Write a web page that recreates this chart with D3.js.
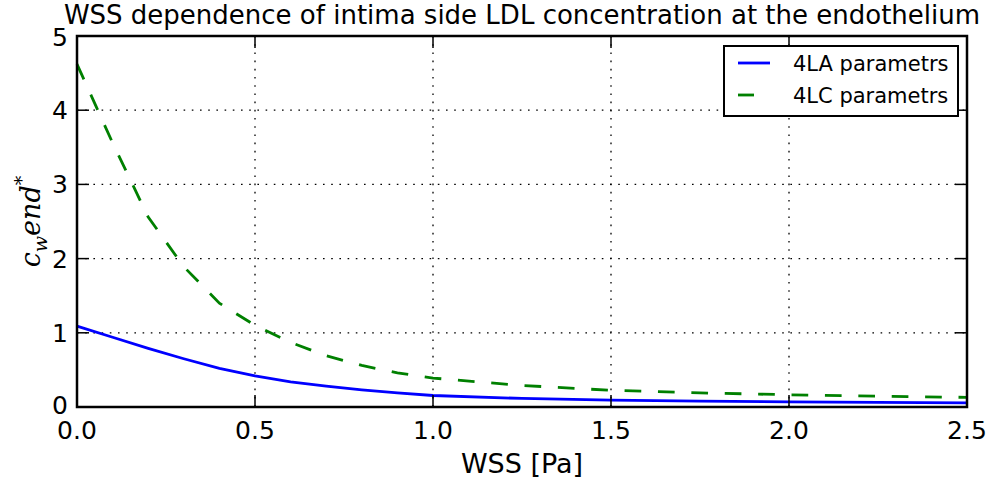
<!DOCTYPE html>
<html><head><meta charset="utf-8">
<script src="https://cdn.jsdelivr.net/npm/d3@7"></script>
<style>body{margin:0;background:#fff}svg{display:block}</style>
</head><body><svg id="c" width="995" height="481"></svg>
<script>
const wssBlue = [0, 0.1, 0.2, 0.3, 0.4, 0.5, 0.6, 0.7, 0.8, 0.9, 1.0, 1.25, 1.5, 1.75, 2.0, 2.25, 2.5];
const cBlue   = [1.09, 0.94, 0.79, 0.65, 0.52, 0.42, 0.34, 0.28, 0.23, 0.19, 0.155, 0.115, 0.094, 0.08, 0.07, 0.062, 0.055];
const wssGreen = [0, 0.1, 0.2, 0.3, 0.4, 0.5, 0.6, 0.7, 0.8, 0.9, 1.0, 1.25, 1.5, 1.75, 2.0, 2.25, 2.5];
const cGreen   = [4.62, 3.56, 2.56, 1.89, 1.40, 1.10, 0.87, 0.69, 0.56, 0.46, 0.39, 0.29, 0.225, 0.19, 0.165, 0.145, 0.13];
const xTicks = [0, 0.5, 1.0, 1.5, 2.0, 2.5];
const yTicks = [0, 1, 2, 3, 4, 5];
const seriesNames = ["4LA parametrs", "4LC parametrs"];

const svg = d3.select("#c");
const L = 77, R = 967, T = 36, B = 407;
const x = d3.scaleLinear().domain([0, 2.5]).range([L, R]);
const y = d3.scaleLinear().domain([0, 5]).range([B, T]);
const font = "'DejaVu Sans', sans-serif";

// grid
svg.append("g").selectAll("line.gx").data(xTicks.slice(1, -1)).join("line")
  .attr("x1", d => x(d)).attr("x2", d => x(d)).attr("y1", T).attr("y2", B)
  .attr("stroke", "#000").attr("stroke-width", 1.3).attr("stroke-dasharray", "1.6,6.6");
svg.append("g").selectAll("line.gy").data(yTicks.slice(1, -1)).join("line")
  .attr("y1", d => y(d)).attr("y2", d => y(d)).attr("x1", L).attr("x2", R)
  .attr("stroke", "#000").attr("stroke-width", 1.3).attr("stroke-dasharray", "1.6,6.6");

// lines
const line = d3.line().x(d => x(d[0])).y(d => y(d[1]));
svg.append("path").datum(wssBlue.map((w, i) => [w, cBlue[i]]))
  .attr("d", line).attr("fill", "none").attr("stroke", "#0000ff").attr("stroke-width", 2.8);
svg.append("path").datum(wssGreen.map((w, i) => [w, cGreen[i]]))
  .attr("d", line).attr("fill", "none").attr("stroke", "#008000").attr("stroke-width", 2.8)
  .attr("stroke-dasharray", "16.7,16.7");

// ticks (inward, all sides)
const tk = 12;
const ticks = svg.append("g").attr("stroke", "#000").attr("stroke-width", 1.5);
xTicks.forEach(d => {
  ticks.append("line").attr("x1", x(d)).attr("x2", x(d)).attr("y1", B).attr("y2", B - tk);
  ticks.append("line").attr("x1", x(d)).attr("x2", x(d)).attr("y1", T).attr("y2", T + tk);
});
yTicks.forEach(d => {
  ticks.append("line").attr("y1", y(d)).attr("y2", y(d)).attr("x1", L).attr("x2", L + tk);
  ticks.append("line").attr("y1", y(d)).attr("y2", y(d)).attr("x1", R).attr("x2", R - tk);
});

// frame
svg.append("rect").attr("x", L).attr("y", T).attr("width", R - L).attr("height", B - T)
  .attr("fill", "none").attr("stroke", "#000").attr("stroke-width", 2.5);

// tick labels
svg.append("g").selectAll("text").data(xTicks).join("text")
  .attr("x", d => x(d)).attr("y", 439).attr("text-anchor", "middle")
  .attr("font-family", font).attr("font-size", 25).text(d => d.toFixed(1));
svg.append("g").selectAll("text").data(yTicks).join("text")
  .attr("x", 68).attr("y", d => y(d) + 9 - (d === 0 ? 2 : 0) + (d === 5 ? 1 : 0)).attr("text-anchor", "end")
  .attr("font-family", font).attr("font-size", 25).text(d => d);

// title and labels
svg.append("text").attr("x", (L + R) / 2).attr("y", 24).attr("text-anchor", "middle")
  .attr("font-family", font).attr("font-size", 26)
  .text("WSS dependence of intima side LDL concentration at the endothelium");
svg.append("text").attr("x", (L + R) / 2).attr("y", 473).attr("text-anchor", "middle")
  .attr("font-family", font).attr("font-size", 27).text("WSS [Pa]");

const yl = svg.append("text").attr("transform", `translate(40,${(T + B) / 2}) rotate(-90)`)
  .attr("text-anchor", "middle").attr("font-family", "'DejaVu Serif', serif")
  .attr("font-style", "italic").attr("font-size", 27);
yl.append("tspan").text("c");
yl.append("tspan").attr("font-size", 19).attr("dy", 7).text("w");
yl.append("tspan").attr("dy", -7).text("end");
yl.append("tspan").attr("font-size", 19).attr("dy", -12).attr("font-style", "normal").text("*");

// legend
const lg = svg.append("g");
lg.append("rect").attr("x", 724).attr("y", 46).attr("width", 234).attr("height", 70)
  .attr("fill", "#fff").attr("stroke", "#000").attr("stroke-width", 2);
const cols = ["#0000ff", "#008000"];
seriesNames.forEach((n, i) => {
  const yy = 63 + i * 32;
  lg.append("line").attr("x1", 738).attr("x2", i ? 754 : 770).attr("y1", yy).attr("y2", yy)
    .attr("stroke", cols[i]).attr("stroke-width", 2.8);
  lg.append("text").attr("x", 793).attr("y", yy + 8).attr("font-family", font)
    .attr("font-size", 21).text(n);
});
</script></body></html>
